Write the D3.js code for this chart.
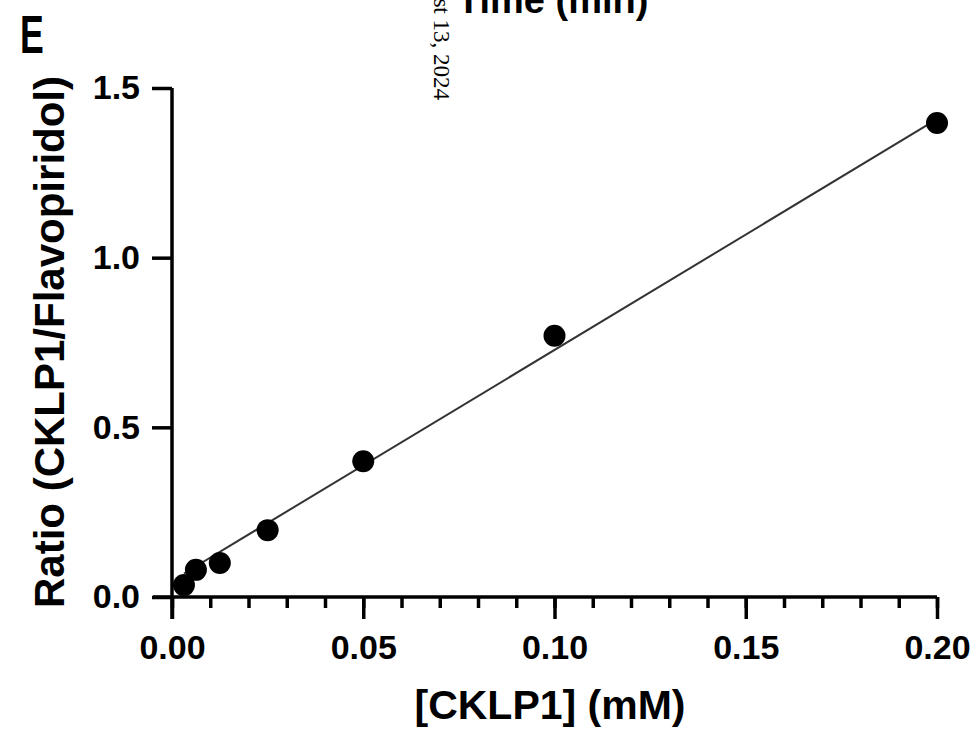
<!DOCTYPE html>
<html>
<head>
<meta charset="utf-8">
<script src="https://cdn.jsdelivr.net/npm/d3@7"></script>
<style>
  body { margin: 0; background: #fff; }
  svg { display: block; }
</style>
</head>
<body>
<div id="chart"></div>
<script>
(function() {
var width = 979,
  height = 730;

// data
var conc = [0.003125, 0.00625, 0.0125, 0.025, 0.05, 0.1, 0.2];
var ratio = [0.035, 0.08, 0.10, 0.197, 0.40, 0.77, 1.397];
var fitSlope = 6.8,
  fitIntercept = 0.048;
var xTicks = [0, 0.05, 0.10, 0.15, 0.20];
var xMinorTicks = d3.range(0, 21).map(function(i) { return i / 100; });
var yTicks = [0, 0.5, 1.0, 1.5];

var points = conc.map(function(c, i) { return { x: c, y: ratio[i] }; });

var svg = d3.select("#chart")
  .append("svg")
  .attr("width", width)
  .attr("height", height)
  .style("font-family", "'Liberation Sans', Arial, sans-serif")

var xScale = d3.scaleLinear().domain([0, 0.2]).range([172, 937])
var yScale = d3.scaleLinear().domain([0, 1.5]).range([597, 88])

// x axis: minor ticks every 0.01
svg.append("g")
  .attr("transform", "translate(0," + yScale(0) + ")")
  .call(d3.axisBottom(xScale).tickValues(xMinorTicks).tickSize(11).tickFormat(""))
  .call(function(g) {
    g.select(".domain").remove();
    g.selectAll("line").attr("stroke", "#000").attr("stroke-width", 3.5);
  })

svg.append("g")
  .attr("transform", "translate(0," + yScale(0) + ")")
  .call(d3.axisBottom(xScale).tickValues(xTicks).tickSize(22).tickPadding(16).tickFormat(d3.format(".2f")))
  .call(function(g) {
    g.select(".domain").attr("d", "M" + (xScale(0) - 19) + ",0H" + xScale(0.2)).attr("stroke", "#000").attr("stroke-width", 3.5);
    g.selectAll("line").attr("stroke", "#000").attr("stroke-width", 3.5);
    g.selectAll("text").attr("fill", "#000").style("font-size", "34px").style("font-weight", "bold").attr("dy", "0.71em");
  })

// y axis
svg.append("g")
  .attr("transform", "translate(" + xScale(0) + ",0)")
  .call(d3.axisLeft(yScale).tickValues(yTicks).tickSize(20).tickPadding(12).tickFormat(d3.format(".1f")))
  .call(function(g) {
    g.select(".domain").attr("d", "M0," + (yScale(0) + 22) + "V" + yScale(1.5)).attr("stroke", "#000").attr("stroke-width", 3.5);
    g.selectAll("line").attr("stroke", "#000").attr("stroke-width", 3.5);
    g.selectAll("text").attr("fill", "#000").style("font-size", "34px").style("font-weight", "bold");
  })

// fitted line over data range
var xExtent = d3.extent(conc);
svg.append("line")
  .attr("x1", xScale(xExtent[0]))
  .attr("y1", yScale(fitIntercept + fitSlope * xExtent[0]))
  .attr("x2", xScale(xExtent[1]))
  .attr("y2", yScale(fitIntercept + fitSlope * xExtent[1]))
  .attr("stroke", "#333")
  .attr("stroke-width", 2)

svg.selectAll(".pt")
  .data(points)
  .enter().append("circle")
  .attr("class", "pt")
  .attr("cx", function(d) { return xScale(d.x); })
  .attr("cy", function(d) { return yScale(d.y); })
  .attr("r", 11)
  .attr("fill", "#000")

// axis titles
svg.append("text")
  .attr("x", 550)
  .attr("y", 719)
  .attr("text-anchor", "middle")
  .style("font-size", "41px")
  .style("font-weight", "bold")
  .text("[CKLP1] (mM)")

svg.append("text")
  .attr("transform", "translate(64," + 342 + ") rotate(-90)")
  .attr("text-anchor", "middle")
  .style("font-size", "42px")
  .style("font-weight", "bold")
  .text("Ratio (CKLP1/Flavopiridol)")

// panel letter and cut-off title of the panel above
svg.append("text")
  .attr("transform", "translate(20,53) scale(0.66,1)")
  .style("font-size", "54px")
  .style("font-weight", "bold")
  .text("E")

svg.append("text")
  .attr("x", 457)
  .attr("y", 13)
  .style("font-size", "38px")
  .style("font-weight", "bold")
  .text("Time (min)")

// preprint watermark
svg.append("text")
  .attr("transform", "translate(434,100) rotate(90)")
  .attr("text-anchor", "end")
  .style("font-family", "'Liberation Serif', 'Times New Roman', serif")
  .style("font-size", "23px")
  .text("August 13, 2024")
})();
</script>
</body>
</html>
